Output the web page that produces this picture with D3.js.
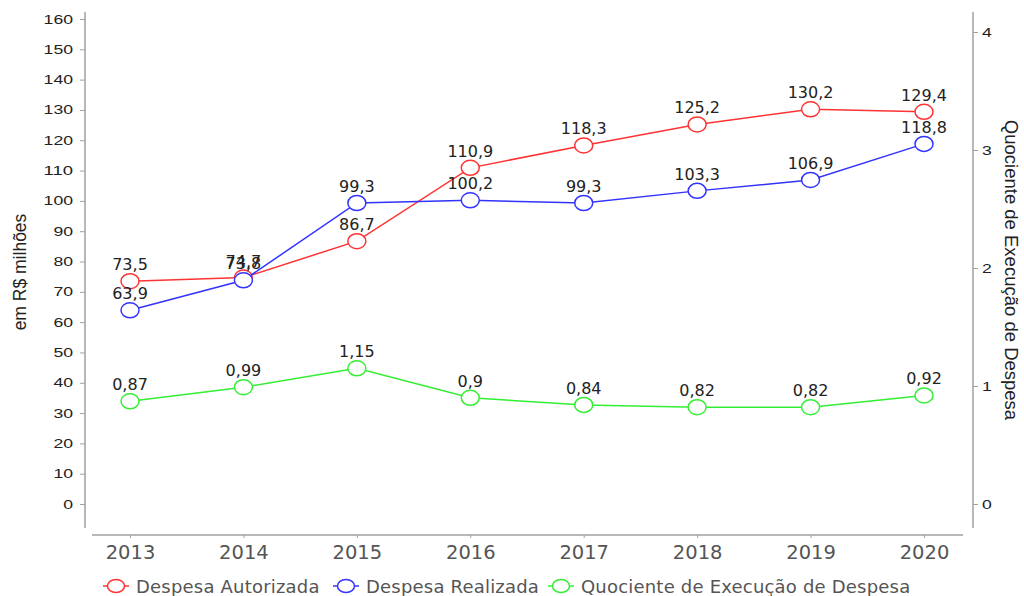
<!DOCTYPE html>
<html>
<head>
<meta charset="utf-8">
<script src="https://cdn.jsdelivr.net/npm/d3@7"></script>
<style>
  body { margin: 0; background: #fff; }
  svg { display: block; }
</style>
</head>
<body>
<div id="chart"></div>
<script>
const anos = ["2013", "2014", "2015", "2016", "2017", "2018", "2019", "2020"];
const autorizada = [73.5, 74.7, 86.7, 110.9, 118.3, 125.2, 130.2, 129.4];
const realizada = [63.9, 73.8, 99.3, 100.2, 99.3, 103.3, 106.9, 118.8];
const quociente = [0.87, 0.99, 1.15, 0.9, 0.84, 0.82, 0.82, 0.92];
const leftTicks = d3.range(0, 161, 10);
const rightTicks = [0, 1, 2, 3, 4];

const width = 1024, height = 596;
const fmt = v => String(v).replace('.', ',');

const svg = d3.select("#chart").append("svg")
  .attr("width", width)
  .attr("height", height);

const x = d3.scalePoint()
  .domain(anos)
  .range([130, 924]);

const yL = d3.scaleLinear().domain([0, 160]).range([504, 19]);
const yR = d3.scaleLinear().domain([0, 4]).range([504, 32]);

const axisColor = "#a0a0a0";

// tick labels in the reference are stretched horizontally
function styleYTicks(g) {
  g.selectAll(".tick line").attr("stroke", axisColor);
  g.selectAll(".tick text").attr("fill", "#222")
    .style("font-family", "Liberation Sans, Arial, sans-serif").style("font-size", "12.5px")
    .attr("textLength", function() { return this.textContent.length * 9.8; })
    .attr("lengthAdjust", "spacingAndGlyphs");
}

// left axis
const gl = svg.append("g").attr("transform", "translate(85,0)");
gl.call(d3.axisLeft(yL).tickValues(leftTicks).tickSize(5).tickPadding(7));
gl.select(".domain").remove();
gl.append("line").attr("x1", 0).attr("x2", 0).attr("y1", 12).attr("y2", 528)
  .attr("stroke", axisColor).attr("stroke-width", 1.5);
styleYTicks(gl);

// right axis
const gr = svg.append("g").attr("transform", "translate(973,0)");
gr.call(d3.axisRight(yR).tickValues(rightTicks).tickFormat(d3.format("d")).tickSize(5).tickPadding(4));
gr.select(".domain").remove();
gr.append("line").attr("x1", 0).attr("x2", 0).attr("y1", 12).attr("y2", 528)
  .attr("stroke", axisColor).attr("stroke-width", 1.5);
styleYTicks(gr);

// x axis
const gx = svg.append("g").attr("transform", "translate(0,535)");
gx.call(d3.axisBottom(x).tickSize(3).tickPadding(7));
gx.select(".domain").remove();
gx.append("line").attr("x1", 92).attr("x2", 963).attr("y1", 0).attr("y2", 0)
  .attr("stroke", axisColor).attr("stroke-width", 1.5);
gx.selectAll(".tick line").attr("stroke", axisColor);
gx.selectAll(".tick text").attr("fill", "#555")
  .style("font-family", "DejaVu Sans, Verdana, sans-serif").style("font-size", "19.5px");

// axis titles
svg.append("text")
  .attr("transform", "translate(26,272) rotate(-90)")
  .attr("text-anchor", "middle")
  .style("font-family", "Liberation Sans, Arial, sans-serif")
  .style("font-size", "17.5px").attr("fill", "#222")
  .text("em R$ milhões");

svg.append("text")
  .attr("transform", "translate(1005,270) rotate(90)")
  .attr("text-anchor", "middle")
  .style("font-family", "Liberation Sans, Arial, sans-serif")
  .style("font-size", "18.5px").attr("fill", "#222")
  .text("Quociente de Execução de Despesa");

const series = [
  { name: "Despesa Autorizada", values: autorizada, y: yL, color: "#ff3333" },
  { name: "Despesa Realizada", values: realizada, y: yL, color: "#3333ff" },
  { name: "Quociente de Execução de Despesa", values: quociente, y: yR, color: "#33ee33" }
];

series.forEach(s => {
  const pts = s.values.map((v, i) => ({ a: anos[i], v: v }));
  svg.append("path")
    .datum(pts)
    .attr("fill", "none")
    .attr("stroke", s.color)
    .attr("stroke-width", 1.5)
    .attr("d", d3.line().x(d => x(d.a)).y(d => s.y(d.v)));
  svg.selectAll(null).data(pts).enter().append("ellipse")
    .attr("cx", d => x(d.a)).attr("cy", d => s.y(d.v))
    .attr("rx", 9).attr("ry", 7.5)
    .attr("fill", "#fff").attr("stroke", s.color).attr("stroke-width", 1.5);
});

// value labels
series.forEach(s => {
  svg.selectAll(null).data(s.values).enter().append("text")
    .attr("x", (d, i) => x(anos[i]))
    .attr("y", d => s.y(d) - 11)
    .attr("text-anchor", "middle")
    .style("font-family", "DejaVu Sans, Verdana, sans-serif")
    .style("font-size", "16px").attr("fill", "#222")
    .text(d => fmt(d));
});

// legend
const legendX = [103, 333, 548];
series.forEach((s, i) => {
  const g = svg.append("g").attr("transform", `translate(${legendX[i]},586)`);
  g.append("line").attr("x1", 0).attr("x2", 26).attr("y1", 0).attr("y2", 0)
    .attr("stroke", s.color).attr("stroke-width", 1.5);
  g.append("ellipse").attr("cx", 13).attr("cy", 0).attr("rx", 8.5).attr("ry", 6.5)
    .attr("fill", "#fff").attr("stroke", s.color).attr("stroke-width", 1.5);
  g.append("text").attr("x", 33).attr("y", 7)
    .style("font-family", "DejaVu Sans, Verdana, sans-serif")
    .style("font-size", "18px").style("letter-spacing", "0.2px").attr("fill", "#555")
    .text(s.name);
});
</script>
</body>
</html>
